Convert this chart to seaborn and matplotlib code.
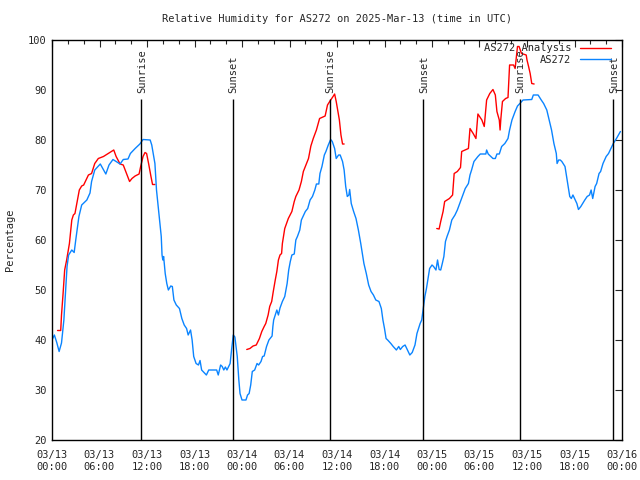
import numpy as np
import pandas as pd
import matplotlib
matplotlib.use("Agg")
import matplotlib.pyplot as plt
from matplotlib.lines import Line2D
from matplotlib.ticker import MultipleLocator
import seaborn as sns

# ---- data (hours since 2025-03-13 00:00 UTC) ----
blue_hours = [0.0, 0.3, 0.6, 0.9, 1.2, 1.5, 1.9, 2.1, 2.5, 2.8, 3.0, 3.4, 3.75, 4.4, 4.8, 5.0, 5.4, 6.1,
              6.8, 7.2, 7.7, 8.6, 9.0, 9.6, 9.9, 10.5, 11.1, 11.5, 12.4, 12.6, 13.0, 13.2, 13.5, 13.8,
              13.9, 14.0, 14.1, 14.3, 14.5, 14.7, 15.0, 15.2, 15.4, 15.7, 16.1, 16.4, 16.7, 17.0, 17.2,
              17.5, 17.7, 17.9, 18.2, 18.5, 18.7, 18.9, 19.5, 19.8, 20.8, 21.0, 21.3, 21.5, 21.7, 21.9,
              22.1, 22.5, 22.7, 22.9, 23.1, 23.2, 23.4, 23.6, 23.75, 24.0, 24.5, 24.7, 24.9, 25.1, 25.3,
              25.6, 25.9, 26.1, 26.4, 26.6, 26.8, 27.1, 27.4, 27.8, 27.9, 28.0, 28.4, 28.6, 28.8, 29.1,
              29.4, 29.7, 29.9, 30.1, 30.3, 30.6, 30.8, 31.0, 31.3, 31.5, 32.0, 32.3, 32.6, 32.9, 33.2,
              33.4, 33.7, 33.85, 34.1, 34.4, 34.6, 34.9, 35.2, 35.4, 35.7, 35.9, 36.2, 36.4, 36.7, 36.9,
              37.1, 37.3, 37.5, 37.6, 37.8, 38.1, 38.4, 38.7, 39.0, 39.2, 39.4, 39.7, 40.0, 40.3, 40.6,
              40.9, 41.3, 41.6, 41.8, 42.0, 42.2, 42.4, 42.8, 43.1, 43.5, 43.8, 44.0, 44.3, 44.6, 44.9,
              45.2, 45.5, 45.85, 46.1, 46.3, 46.5, 46.7, 46.9, 47.1, 47.3, 47.5, 47.7, 48.0, 48.2, 48.5,
              48.7, 48.9, 49.1, 49.3, 49.5, 49.7, 49.9, 50.2, 50.5, 50.9, 51.2, 51.5, 51.9, 52.2, 52.6,
              52.8, 53.0, 53.3, 53.6, 53.8, 54.1, 54.8, 54.9, 55.1, 55.7, 56.0, 56.2, 56.5, 56.8, 57.2,
              57.6, 57.8, 58.1, 58.5, 58.8, 59.1, 59.5, 60.6, 60.8, 61.4, 61.8, 62.1, 62.5, 62.8, 63.1,
              63.4, 63.7, 63.8, 64.0, 64.2, 64.4, 64.8, 65.0, 65.2, 65.4, 65.6, 65.8, 66.0, 66.3, 66.5,
              66.8, 67.3, 67.6, 67.9, 68.1, 68.3, 68.6, 68.8, 69.1, 69.3, 69.6, 70.0, 70.3, 70.6, 70.9,
              71.3, 71.8]
blue_values = [40.0, 41.0, 39.5, 37.7, 39.4, 44.0, 54.7, 57.0, 58.0, 57.5, 60.0, 64.7, 67.0, 68.0, 69.4, 71.7,
               74.0, 75.2, 73.2, 75.0, 76.1, 75.2, 76.1, 76.2, 77.3, 78.3, 79.2, 80.1, 80.0, 79.0, 75.3,
               70.0, 65.3, 60.7, 57.0, 56.0, 56.7, 53.3, 51.3, 50.0, 50.8, 50.7, 48.0, 47.0, 46.3, 44.3,
               43.0, 42.3, 41.0, 42.0, 40.0, 36.7, 35.3, 35.0, 35.9, 34.0, 33.0, 34.0, 34.0, 33.0, 35.0,
               34.7, 34.0, 34.6, 34.0, 35.3, 38.3, 41.0, 40.6, 39.3, 36.7, 32.0, 29.3, 28.0, 28.0, 29.0,
               29.3, 31.0, 33.7, 34.0, 35.3, 35.0, 35.7, 36.7, 36.8, 38.7, 40.0, 40.8, 42.7, 44.0, 46.0,
               45.0, 46.4, 47.7, 48.7, 51.3, 54.0, 55.7, 57.0, 57.2, 60.0, 60.7, 62.0, 64.0, 65.7, 66.3,
               68.0, 68.7, 70.0, 71.2, 71.2, 73.3, 74.7, 77.0, 77.7, 79.0, 80.1, 79.7, 78.3, 76.3, 77.0,
               77.0, 75.7, 74.0, 70.7, 68.7, 69.0, 70.1, 67.3, 65.7, 64.3, 62.0, 59.3, 57.3, 55.3, 53.3,
               51.0, 49.7, 49.0, 48.0, 47.7, 46.3, 44.0, 42.3, 40.3, 40.0, 39.3, 38.7, 38.0, 38.7, 38.1,
               38.7, 39.0, 38.0, 37.0, 37.5, 39.0, 41.3, 42.3, 43.3, 44.0, 46.3, 48.7, 50.3, 52.3, 54.3,
               55.0, 54.7, 54.0, 56.0, 54.1, 54.0, 55.3, 56.7, 59.7, 60.7, 62.0, 64.0, 65.0, 66.0, 67.3,
               69.0, 70.3, 71.3, 73.0, 74.0, 75.7, 76.3, 76.7, 77.2, 77.2, 78.0, 77.2, 76.3, 76.3, 77.2,
               77.2, 78.7, 79.3, 80.3, 82.0, 84.0, 85.7, 86.8, 87.3, 88.0, 88.1, 89.0, 89.0, 88.0, 87.3,
               86.0, 84.0, 82.0, 79.3, 77.3, 75.3, 76.0, 76.0, 75.7, 74.7, 72.7, 70.7, 68.7, 68.3, 69.0,
               68.3, 67.3, 66.1, 66.7, 68.0, 68.7, 69.0, 70.0, 68.3, 70.7, 71.3, 73.3, 73.7, 75.3, 76.7,
               77.3, 78.3, 79.3, 80.3, 81.7]

red_seg1_hours = [0.7, 1.1, 1.2, 1.4, 1.6, 1.85, 2.2, 2.5, 2.7, 2.9, 3.45, 3.75, 4.0, 4.6, 5.0, 5.4, 5.85,
                  6.5, 7.1, 7.8, 8.1, 8.6, 9.0, 9.8, 10.1, 10.5, 11.0, 11.2, 11.5, 11.75, 11.95, 12.2,
                  12.5, 12.7, 13.0]
red_seg1_values = [41.9, 41.9, 45.0, 49.3, 54.0, 56.0, 59.3, 64.0, 65.0, 65.3, 70.0, 70.8, 71.0, 73.0, 73.3,
                   75.3, 76.3, 76.7, 77.3, 78.0, 76.7, 75.2, 75.0, 71.7, 72.3, 72.8, 73.2, 74.7, 76.7,
                   77.5, 77.3, 75.3, 72.7, 71.1, 71.1]
red_seg2_hours = [24.6, 25.0, 25.4, 25.8, 26.2, 26.5, 26.8, 27.0, 27.3, 27.5, 27.75, 27.95, 28.2, 28.4,
                  28.6, 28.8, 29.0, 29.1, 29.4, 29.85, 30.3, 30.6, 30.8, 31.2, 31.5, 31.75, 32.0, 32.4,
                  32.7, 33.0, 33.4, 33.8, 34.5, 34.8, 35.2, 35.5, 35.7, 35.9, 36.3, 36.5, 36.7, 36.9]
red_seg2_values = [38.1, 38.3, 38.8, 39.0, 40.3, 41.7, 42.7, 43.3, 45.0, 46.7, 47.7, 49.7, 52.0, 53.7,
                   56.0, 57.0, 57.3, 59.3, 62.3, 64.3, 65.7, 67.7, 68.7, 70.0, 71.7, 73.7, 74.7, 76.3,
                   78.8, 80.3, 82.0, 84.3, 84.8, 87.0, 88.0, 88.7, 89.2, 87.7, 84.0, 81.0, 79.2, 79.2]
red_seg3_hours = [48.6, 48.9, 49.1, 49.4, 49.6, 50.2, 50.6, 50.8, 51.2, 51.6, 51.75, 52.6, 52.8, 53.2,
                  53.55, 53.8, 54.3, 54.6, 54.9, 55.3, 55.7, 56.0, 56.2, 56.5, 56.6, 56.7, 56.9, 57.3,
                  57.6, 57.8, 58.3, 58.5, 58.8, 59.0, 59.3, 59.9, 60.0, 60.2, 60.4, 60.6, 60.9]
red_seg3_values = [62.3, 62.2, 63.7, 65.7, 67.7, 68.3, 69.0, 73.3, 73.7, 74.5, 77.7, 78.3, 82.3, 81.3,
                   80.3, 85.2, 84.0, 82.7, 88.0, 89.3, 90.1, 89.0, 85.7, 84.0, 82.0, 84.3, 87.7, 88.3,
                   88.5, 95.0, 95.0, 94.3, 98.7, 98.7, 97.3, 97.0, 96.0, 94.7, 93.3, 91.3, 91.2]

sun_hours = [11.25, 22.85, 35.1, 46.9, 59.1, 70.9]
sun_labels = ["Sunrise", "Sunset", "Sunrise", "Sunset", "Sunrise", "Sunset"]

tick_hours = list(range(0, 73, 6))
tick_labels = ["03/13\n00:00", "03/13\n06:00", "03/13\n12:00", "03/13\n18:00",
               "03/14\n00:00", "03/14\n06:00", "03/14\n12:00", "03/14\n18:00",
               "03/15\n00:00", "03/15\n06:00", "03/15\n12:00", "03/15\n18:00",
               "03/16\n00:00"]

RED = "#ff0000"
BLUE = "#0a84ff"

sns.set_style("white")
plt.rcParams['font.family'] = ['DejaVu Sans Mono']
plt.rcParams['font.size'] = 7.5

fig = plt.figure(figsize=(6.4, 4.8), dpi=100)
ax = fig.add_axes([52/640, 1-440/480, 570/640, 400/480])

df_blue = pd.DataFrame({"hour": blue_hours, "rh": blue_values})
red_df = pd.concat([
    pd.DataFrame({"hour": red_seg1_hours, "rh": red_seg1_values, "seg": 1}),
    pd.DataFrame({"hour": red_seg2_hours, "rh": red_seg2_values, "seg": 2}),
    pd.DataFrame({"hour": red_seg3_hours, "rh": red_seg3_values, "seg": 3}),
])

for s, g in red_df.groupby("seg"):
    sns.lineplot(data=g, x="hour", y="rh", color=RED, lw=1.0, ax=ax,
                 estimator=None, sort=False, legend=False)
sns.lineplot(data=df_blue, x="hour", y="rh", color=BLUE, lw=1.0, ax=ax,
             estimator=None, sort=False, legend=False)

# sunrise / sunset markers
ax.vlines(sun_hours, 20, 88.2, color="black", lw=1.0)
for h, lab in zip(sun_hours, sun_labels):
    ax.text(h + 0.1, 89.3, lab, rotation=90, ha="center", va="bottom", fontsize=7.5)

ax.set_xlim(0, 72)
ax.set_ylim(20, 100)
ax.set_xticks(tick_hours)
ax.set_xticklabels(tick_labels, linespacing=1.3)
ax.xaxis.set_minor_locator(MultipleLocator(2))
ax.set_yticks(range(20, 101, 10))
ax.tick_params(axis="both", which="major", direction="in", length=5, width=0.8,
               top=True, right=True, pad=4)
ax.tick_params(axis="x", which="major", pad=7)
ax.tick_params(axis="x", which="minor", direction="in", length=3, width=0.8, top=True)
ax.set_xlabel("")
ax.set_ylabel("Percentage", labelpad=9)
for sp in ax.spines.values():
    sp.set_color("black")
    sp.set_linewidth(1.0)

ax.set_title("Relative Humidity for AS272 on 2025-Mar-13 (time in UTC)", fontsize=7.5, pad=13)

handles = [Line2D([0], [0], color=RED, lw=1.0), Line2D([0], [0], color=BLUE, lw=1.0)]
ax.legend(handles, ["AS272 Analysis", "AS272"], loc="upper right", frameon=False,
          markerfirst=False, handlelength=3.0, handletextpad=0.8, labelspacing=0.15,
          borderaxespad=0.1, fontsize=7.5, bbox_to_anchor=(0.99, 1.005))

fig.savefig("out.png", dpi=100)
